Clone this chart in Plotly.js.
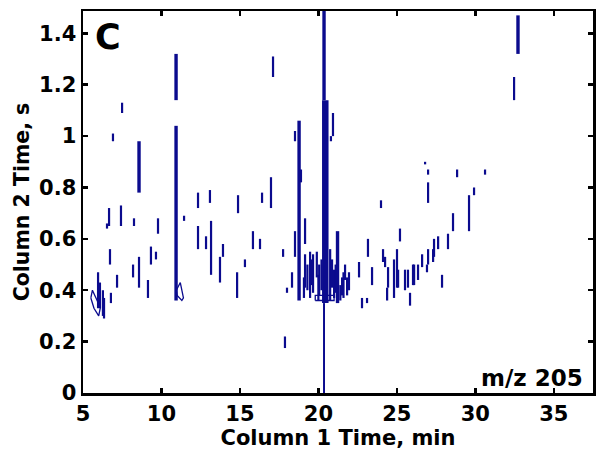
<!DOCTYPE html>
<html><head><meta charset="utf-8">
<script src="https://cdn.plot.ly/plotly-3.0.1.min.js"></script>
<style>html,body{margin:0;padding:0;background:#fff}#c{width:602px;height:455px}</style>
</head><body><div id="c"></div>
<script>
// Peak contour segments: column-1 time (min), column-2 time low / high (s)
const thinX  = [5.96,6.08,6.34,6.27,6.72,6.78,6.66,6.53,6.91,7.49,7.42,7.17,8.25,8.19,8.57,9.14,9.33,9.65,9.78,11.44,12.33,13.09,12.33,13.16,12.84,13.73,13.92,14.82,15.32,14.88,15.83,16.28,16.41,16.98,17.11,17.75,18.0,17.87,18.32,18.51,18.51,18.89,19.15,19.08,19.15,19.47,19.66,19.9,20.05,20.75,20.87,20.93,20.8,21.0,21.4,21.51,21.83,22.59,22.78,23.10,23.16,23.42,23.99,24.12,24.25,24.44,24.38,24.82,25.01,25.08,25.20,25.52,25.71,25.84,26.03,26.10,26.35,26.61,26.92,26.99,27.31,27.37,27.63,27.88,28.26,28.58,29.60,29.92,28.84,30.62,26.80,26.99,26.99,32.47,19.3,19.6,20.0,20.2,21.1,21.6,21.95,21.7];
const thinLo = [0.33,0.33,0.29,0.30,0.50,0.35,0.65,0.64,0.98,1.09,0.65,0.41,0.65,0.45,0.41,0.37,0.50,0.52,0.62,0.67,0.72,0.74,0.56,0.46,0.56,0.43,0.53,0.37,0.49,0.70,0.56,0.56,0.74,0.72,1.23,0.53,0.39,0.175,0.41,0.53,0.98,0.82,0.58,0.37,0.41,0.37,0.39,0.45,0.38,0.36,0.41,1.00,0.98,0.37,0.36,0.38,0.38,0.45,0.33,0.35,0.53,0.42,0.72,0.51,0.49,0.41,0.36,0.37,0.41,0.41,0.59,0.40,0.41,0.34,0.42,0.42,0.44,0.49,0.47,0.50,0.51,0.53,0.56,0.41,0.56,0.63,0.63,0.77,0.84,0.85,0.89,0.85,0.74,1.14,0.40,0.42,0.36,0.40,0.39,0.37,0.40,0.44];
const thinHi = [0.47,0.43,0.37,0.40,0.56,0.39,0.72,0.66,1.01,1.13,0.73,0.46,0.68,0.50,0.53,0.44,0.57,0.55,0.68,0.69,0.78,0.79,0.65,0.67,0.61,0.53,0.58,0.47,0.52,0.77,0.63,0.60,0.78,0.84,1.31,0.56,0.41,0.22,0.47,0.63,1.02,0.87,0.68,0.45,0.54,0.55,0.54,0.55,0.50,0.56,0.52,1.09,1.00,0.48,0.42,0.45,0.45,0.51,0.37,0.37,0.60,0.49,0.75,0.56,0.53,0.49,0.41,0.52,0.56,0.48,0.64,0.48,0.48,0.39,0.50,0.50,0.50,0.54,0.50,0.56,0.56,0.60,0.61,0.46,0.62,0.70,0.77,0.80,0.87,0.87,0.90,0.87,0.82,1.23,0.50,0.52,0.46,0.52,0.50,0.47,0.47,0.50];
const thickX  = [8.57,10.93,10.93,18.77,21.22,32.72,20.36];
const thickLo = [0.78,0.36,1.14,0.36,0.35,1.32,1.14];
const thickHi = [0.98,1.04,1.32,1.06,0.63,1.47,1.49];
const mainX  = [20.44];
const mainLo = [0.35];
const mainHi = [1.14];
const tailX  = [20.36];
const tailLo = [0];
const tailHi = [0.35];
const loopAX = [5.5,5.6,5.9,6.1,6.0,5.7,5.5];
const loopAY = [0.37,0.40,0.36,0.33,0.30,0.33,0.37];
const loopBX = [10.95,11.2,11.4,11.3,11.0,10.95];
const loopBY = [0.40,0.43,0.37,0.36,0.38,0.40];
const loopCX = [19.8,20.2,21.0,21.0,19.8,19.8];
const loopCY = [0.36,0.36,0.36,0.38,0.38,0.36];
const xTicks = [5,10,15,20,25,30,35];
const yTicks = [0,0.2,0.4,0.6,0.8,1,1.2,1.4];
const yTickText = ['0','0.2','0.4','0.6','0.8','1','1.2','1.4'];

const col = '#0b0b8e';
function segs(xs, lo, hi){
  const X=[],Y=[];
  xs.forEach((x,i)=>{X.push(x,x,null);Y.push(lo[i],hi[i],null);});
  return {x:X,y:Y};
}
function tr(d,w){return {x:d.x,y:d.y,mode:'lines',type:'scatter',line:{color:col,width:w},hoverinfo:'skip',showlegend:false,connectgaps:false};}
const data=[
  tr(segs(thinX,thinLo,thinHi),2.2),
  tr(segs(thickX,thickLo,thickHi),3.4),
  tr(segs(mainX,mainLo,mainHi),6.5),
  tr(segs(tailX,tailLo,tailHi),2),
  tr({x:loopAX,y:loopAY},1.3),
  tr({x:loopBX,y:loopBY},1.3),
  tr({x:loopCX,y:loopCY},1.3)
];
const FAM = 'DejaVu Sans, Arial, sans-serif';
const F = {family:FAM, size:21, color:'#000', weight:'bold'};
const ax = {showline:true, linecolor:'#000', linewidth:2.5, mirror:'allticks', ticks:'inside', ticklen:5, tickwidth:2.5, tickcolor:'#000', showgrid:false, zeroline:false, tickfont:F};
const layout={
  width:602,height:455,margin:{l:83,r:9,t:11,b:62},
  paper_bgcolor:'#fff',plot_bgcolor:'#fff',
  xaxis:Object.assign({},ax,{range:[5,37.5],tickvals:xTicks,title:{text:'Column 1 Time, min',font:F,standoff:5}}),
  yaxis:Object.assign({},ax,{range:[0,1.487],tickvals:yTicks,ticktext:yTickText,title:{text:'Column 2 Time, s',font:{family:FAM,size:20.5,color:'#000',weight:'bold'},standoff:4}}),
  annotations:[
    {xref:'paper',yref:'paper',x:0.02,y:0.99,xanchor:'left',yanchor:'top',text:'C',showarrow:false,font:{family:FAM,size:35,color:'#000',weight:'bold'}},
    {xref:'paper',yref:'paper',x:0.985,y:0.0,xanchor:'right',yanchor:'bottom',text:'m/z 205',showarrow:false,font:{family:FAM,size:23,color:'#000',weight:'bold'}}
  ]
};
Plotly.newPlot('c',data,layout,{staticPlot:true,displayModeBar:false});
</script></body></html>
